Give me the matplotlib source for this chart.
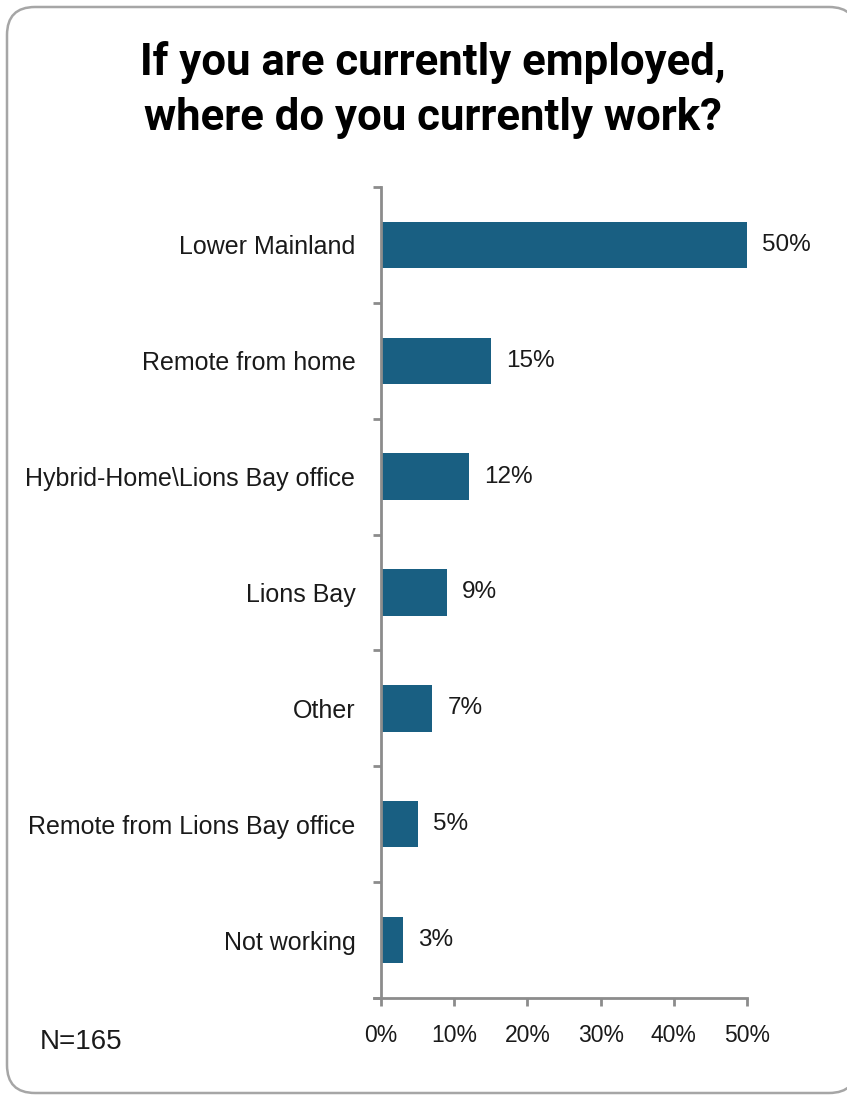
import matplotlib
matplotlib.use("Agg")
import matplotlib.pyplot as plt
from matplotlib.patches import FancyBboxPatch

# Survey responses: where respondents currently work
categories = [
    "Lower Mainland",
    "Remote from home",
    "Hybrid-Home\\Lions Bay office",
    "Lions Bay",
    "Other",
    "Remote from Lions Bay office",
    "Not working",
]
shares = [50, 15, 12, 9, 7, 5, 3]
x_ticks = [0, 10, 20, 30, 40, 50]
title_text = "If you are currently employed,\nwhere do you currently work?"
sample_note = "N=165"

BAR_COLOR = "#195F82"
AXIS_COLOR = "#8C8C8C"
TEXT_COLOR = "#1A1A1A"
body_family = "Liberation Sans"

W, H = 847, 1095
fig = plt.figure(figsize=(W / 100, H / 100), dpi=100)

# Rounded frame around the whole chart, drawn in pixel coordinates
bg = fig.add_axes([0, 0, 1, 1])
bg.set_xlim(0, W)
bg.set_ylim(H, 0)
bg.axis("off")
frame = FancyBboxPatch((7 + 28, 7 + 28), 850 - 56, 1086 - 56,
                       boxstyle="round,pad=28,rounding_size=28",
                       facecolor="white", edgecolor="#A6A6A6", linewidth=1.8,
                       clip_on=False)
bg.add_patch(frame)

bg.text(433, 90, title_text, ha="center", va="center", fontsize=31.5,
        fontweight="bold", family="Roboto", color="black", linespacing=1.4)
bg.text(40, 1042, sample_note, ha="left", va="center", fontsize=20,
        family=body_family, color=TEXT_COLOR)

left, right = 381 / W, 747 / W
bottom, top = (H - 998) / H, (H - 187) / H
ax = fig.add_axes([left, bottom, right - left, top - bottom])

n = len(categories)
ypos = list(range(n))
ax.barh(ypos, shares, height=0.4, color=BAR_COLOR, zorder=2)
ax.set_ylim(n - 0.5, -0.5)
ax.set_xlim(0, 50)

for y, v in zip(ypos, shares):
    ax.annotate(f"{v}%", xy=(v, y), xytext=(11, 0), textcoords="offset points",
                ha="left", va="center", fontsize=17.5, family=body_family,
                color=TEXT_COLOR)

# Category labels centred in each band, ticks on the band boundaries
ax.set_yticks([i - 0.5 for i in range(n + 1)])
ax.set_yticklabels([])
ax.set_yticks(ypos, minor=True)
ax.set_yticklabels(categories, minor=True, fontsize=18, family=body_family,
                   color=TEXT_COLOR)
ax.tick_params(axis="y", which="minor", length=0, pad=18.5)
ax.tick_params(axis="y", which="major", length=6, width=2, color=AXIS_COLOR,
               direction="out")

ax.set_xticks(x_ticks)
ax.set_xticklabels([f"{t}%" for t in x_ticks], fontsize=16.5, family=body_family,
                   color=TEXT_COLOR)
ax.tick_params(axis="x", length=6, width=2, color=AXIS_COLOR, pad=13)

for side in ("top", "right"):
    ax.spines[side].set_visible(False)
for side in ("left", "bottom"):
    ax.spines[side].set_color(AXIS_COLOR)
    ax.spines[side].set_linewidth(2)
ax.spines["bottom"].set_bounds(-1, 50)
ax.set_facecolor("none")

fig.savefig("out.png", dpi=100)
